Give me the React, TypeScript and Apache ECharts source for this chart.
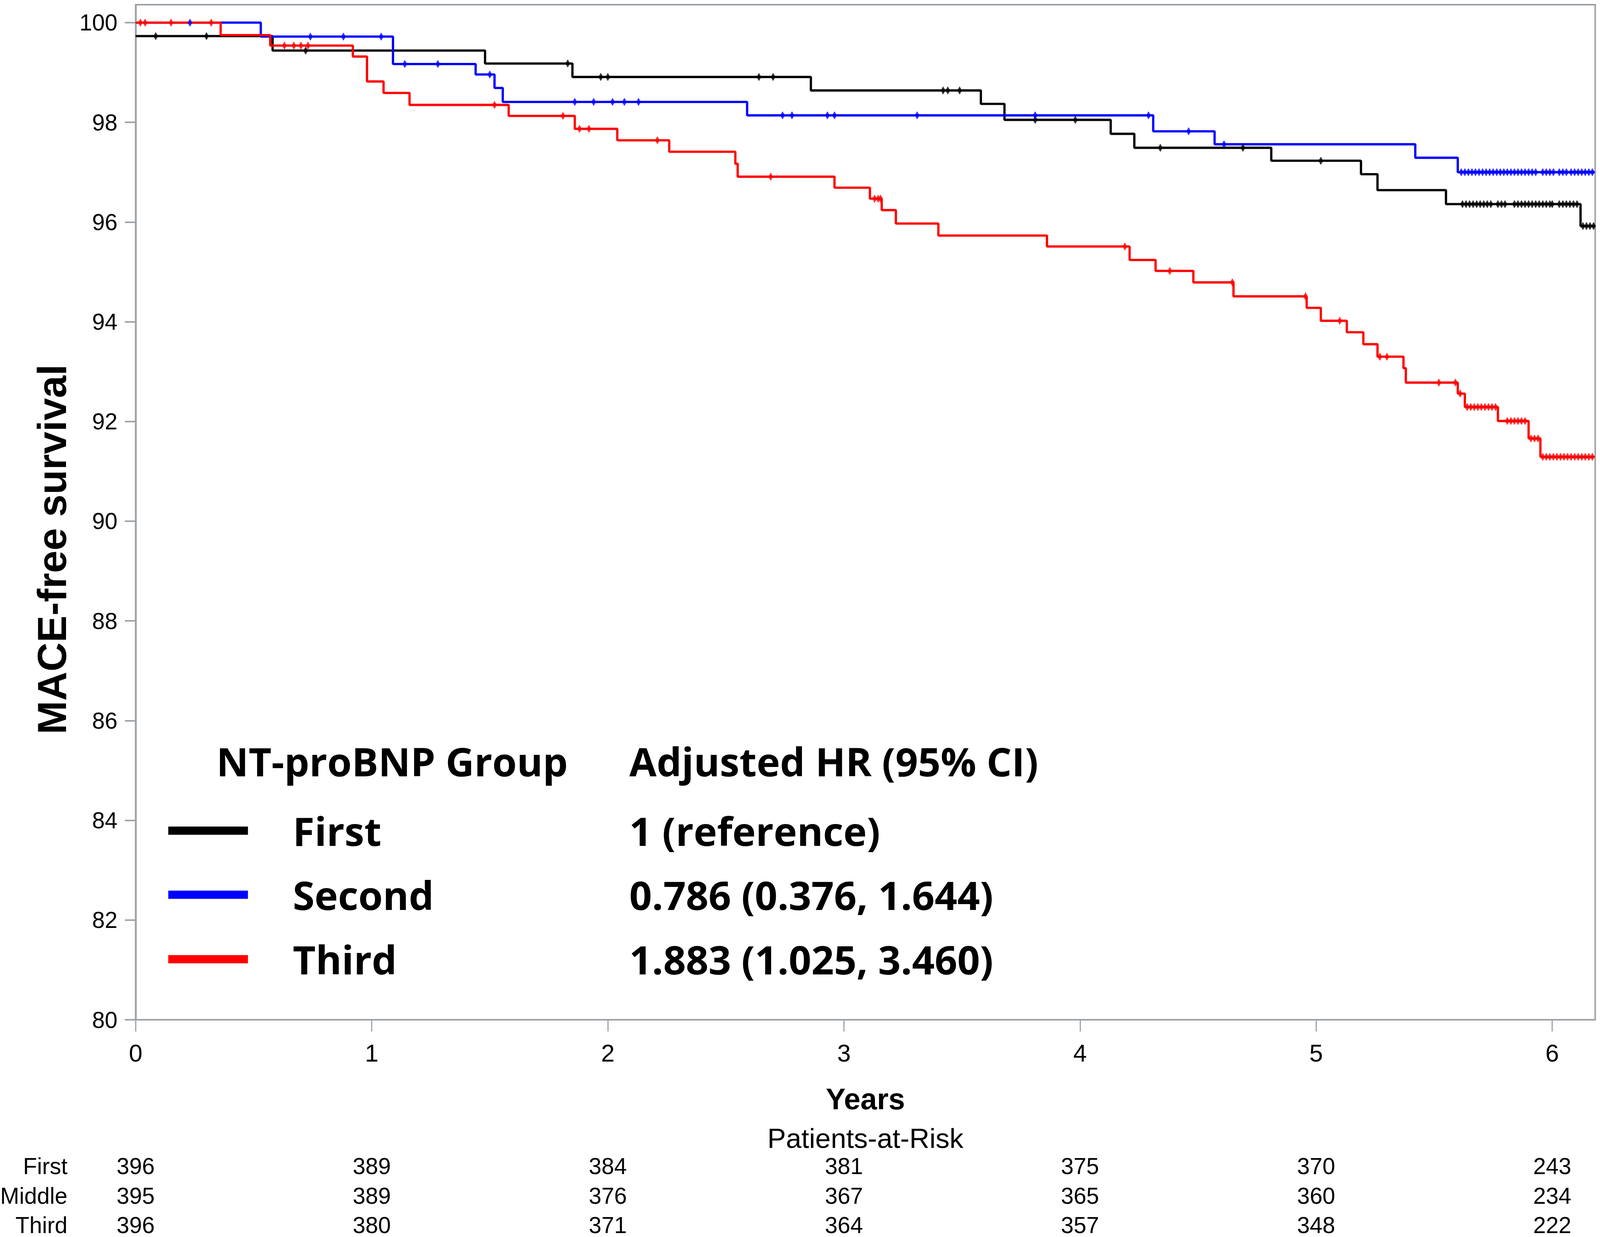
import React, { useEffect, useRef, useState } from "react";
import * as echarts from "echarts";

const W = 4317;
const H = 3166;

// ---- axis ticks ----
const xTicks = [0, 1, 2, 3, 4, 5, 6];
const yTicks = [80, 82, 84, 86, 88, 90, 92, 94, 96, 98, 100];
const xMax = 6.182;
const yMin = 80;
const yMax = 100.36;
const followUpEnd = 6.18;

// ---- Kaplan-Meier step data (event time, survival after event) ----
const firstTimes = [0, 0.58, 1.48, 1.85, 2.86, 3.58, 3.68, 4.13, 4.23, 4.81, 5.19, 5.26, 5.55, 6.12];
const firstSurv = [99.73, 99.44, 99.18, 98.91, 98.64, 98.37, 98.05, 97.77, 97.49, 97.23, 96.96, 96.64, 96.36, 95.92];

const secondTimes = [0, 0.53, 1.09, 1.44, 1.52, 1.555, 2.59, 4.31, 4.57, 5.42, 5.6];
const secondSurv = [100, 99.72, 99.17, 98.96, 98.69, 98.41, 98.14, 97.82, 97.56, 97.29, 97.0];

const thirdTimes = [0, 0.36, 0.57, 0.92, 0.98, 1.05, 1.16, 1.58, 1.86, 2.04, 2.26, 2.54, 2.55, 2.96, 3.11, 3.16, 3.22, 3.4, 3.86, 4.21, 4.32, 4.48, 4.65, 4.96, 5.02, 5.13, 5.2, 5.26, 5.37, 5.38, 5.6, 5.63, 5.77, 5.9, 5.95];
const thirdSurv = [100, 99.75, 99.54, 99.32, 98.82, 98.59, 98.35, 98.13, 97.87, 97.64, 97.41, 97.17, 96.91, 96.69, 96.47, 96.24, 95.97, 95.73, 95.51, 95.24, 95.02, 94.79, 94.51, 94.28, 94.02, 93.79, 93.55, 93.3, 93.07, 92.78, 92.56, 92.29, 92.01, 91.66, 91.29];

// ---- censoring times ----
const firstCensor = [0.085, 0.3, 0.72, 1.83, 1.97, 2.0, 2.64, 2.7, 3.42, 3.44, 3.49, 3.81, 3.98, 4.34, 4.69, 5.02,
  5.62, 5.635, 5.65, 5.665, 5.68, 5.695, 5.71, 5.725, 5.74, 5.77, 5.785, 5.8, 5.84, 5.855, 5.87, 5.885, 5.9, 5.915,
  5.93, 5.945, 5.96, 5.975, 5.99, 6.0, 6.03, 6.045, 6.06, 6.075, 6.09, 6.105, 6.13, 6.145, 6.16, 6.175];
const secondCensor = [0.23, 0.74, 0.88, 1.04, 1.14, 1.28, 1.5, 1.86, 1.94, 2.02, 2.07, 2.13, 2.74, 2.78, 2.93, 2.96,
  3.31, 3.81, 4.29, 4.46, 4.61, 5.615, 5.63, 5.645, 5.66, 5.675, 5.69, 5.705, 5.72, 5.735, 5.75, 5.765, 5.78, 5.795,
  5.81, 5.825, 5.84, 5.855, 5.87, 5.885, 5.9, 5.915, 5.93, 5.96, 5.975, 5.99, 6.005, 6.03, 6.045, 6.06, 6.08, 6.095,
  6.11, 6.125, 6.14, 6.155, 6.17];
const thirdCensor = [0.02, 0.04, 0.15, 0.32, 0.63, 0.67, 0.7, 0.73, 1.52, 1.81, 1.88, 1.92, 2.21, 2.69, 3.13, 3.145,
  3.155, 4.19, 4.38, 4.645, 4.955, 5.1, 5.27, 5.3, 5.52, 5.59, 5.61, 5.64, 5.655, 5.67, 5.685, 5.7, 5.715, 5.73,
  5.745, 5.76, 5.81, 5.825, 5.84, 5.855, 5.87, 5.885, 5.91, 5.925, 5.94, 5.96, 5.975, 5.99, 6.005, 6.02, 6.035,
  6.05, 6.065, 6.08, 6.095, 6.11, 6.125, 6.14, 6.155, 6.17];

// ---- legend / table texts ----
const groupNames = ["First", "Second", "Third"];
const groupColors = ["#000000", "#0000ff", "#ff0000"];
const hrLabels = ["1 (reference)", "0.786 (0.376, 1.644)", "1.883 (1.025, 3.460)"];
const legendHeader = "NT-proBNP Group";
const hrHeader = "Adjusted HR (95% CI)";
const yTitle = "MACE-free survival";
const xTitle = "Years";
const riskTitle = "Patients-at-Risk";
const riskRowLabels = ["First", "Middle", "Third"];
const riskFirst = [396, 389, 384, 381, 375, 370, 243];
const riskMiddle = [395, 389, 376, 367, 365, 360, 234];
const riskThird = [396, 380, 371, 364, 357, 348, 222];

const AXIS_GRAY = "#9ca1a6";
const SANS = "'Liberation Sans', Arial, sans-serif";
const LEG = "'Open Sans', 'Noto Sans', sans-serif";

function survAt(times: number[], surv: number[], t: number): number {
  let v = surv[0];
  for (let i = 0; i < times.length; i++) if (times[i] <= t) v = surv[i];
  return v;
}

function kmData(times: number[], surv: number[]) {
  const d = times.map((t, i) => [t, surv[i]]);
  d.push([followUpEnd, surv[surv.length - 1]]);
  return d;
}

function censorData(c: number[], times: number[], surv: number[]) {
  return c.map((t) => [t, survAt(times, surv, t)]);
}

export default function App() {
  const ref = useRef<HTMLDivElement>(null);
  const [size] = useState(() => {
    const vw = typeof window !== "undefined" && window.innerWidth ? window.innerWidth : W;
    const vh = typeof window !== "undefined" && window.innerHeight ? window.innerHeight : H;
    return { w: vw, h: vh, kx: vw / W, ky: vh / H };
  });
  useEffect(() => {
    document.body.style.margin = "0";
    document.body.style.overflow = "hidden";
    if (!ref.current) return;
    const { kx, ky } = size;
    const sx = (v: number) => v * kx;
    const sy = (v: number) => v * ky;
    const kf = Math.sqrt(kx * ky);
    const sf = (v: number) => v * kf;
    const chart = echarts.init(ref.current, undefined, { renderer: "svg", width: size.w, height: size.h });
    const sets = [
      { t: firstTimes, s: firstSurv, c: firstCensor },
      { t: secondTimes, s: secondSurv, c: secondCensor },
      { t: thirdTimes, s: thirdSurv, c: thirdCensor },
    ];
    const series: any[] = [];
    sets.forEach((g, i) => {
      series.push({
        type: "line",
        name: groupNames[i],
        step: "end",
        data: kmData(g.t, g.s),
        symbol: "none",
        lineStyle: { color: groupColors[i], width: sf(6) },
        z: 2 + i,
      });
    });
    sets.forEach((g, i) => {
      series.push({
        type: "scatter",
        name: groupNames[i] + " censored",
        data: censorData(g.c, g.t, g.s),
        symbol: "diamond",
        symbolSize: [sx(13), sy(21)],
        itemStyle: { color: groupColors[i] },
        z: 6 + i,
      });
    });

    chart.setOption({
      animation: false,
      backgroundColor: "#ffffff",
      textStyle: { fontFamily: SANS },
      grid: {
        left: sx(366),
        top: sy(12),
        width: sx(3938),
        height: sy(2598),
        show: true,
        borderColor: AXIS_GRAY,
        borderWidth: sf(4),
        backgroundColor: "transparent",
      },
      xAxis: {
        type: "value",
        min: 0,
        max: xMax,
        interval: 1,
        axisLine: { show: true, lineStyle: { color: AXIS_GRAY, width: sf(4) } },
        axisTick: { show: true, inside: false, length: sy(30), lineStyle: { color: AXIS_GRAY, width: sf(3) }, customValues: xTicks },
        axisLabel: { fontSize: sf(64), color: "#000", margin: sy(54), fontFamily: SANS, customValues: xTicks },
        splitLine: { show: false },
      },
      yAxis: {
        type: "value",
        min: yMin,
        max: yMax,
        interval: 2,
        axisLine: { show: true, lineStyle: { color: AXIS_GRAY, width: sf(4) } },
        axisTick: { show: true, inside: false, length: sx(29), lineStyle: { color: AXIS_GRAY, width: sf(4) }, customValues: yTicks },
        axisLabel: { fontSize: sf(60), color: "#000", margin: sx(49), fontFamily: SANS, customValues: yTicks },
        splitLine: { show: false },
      },
      series,
    });

    const px = xTicks.map((t) => chart.convertToPixel({ xAxisIndex: 0 }, t) as number);
    const gridLeftPx = chart.convertToPixel({ xAxisIndex: 0 }, 0) as number;
    const gridRightPx = chart.convertToPixel({ xAxisIndex: 0 }, xMax) as number;
    const midX = (gridLeftPx + gridRightPx) / 2;

    const graphic: any[] = [];
    const txt = (text: string, x: number, y: number, size: number, opts: any = {}) => ({
      type: "text",
      x,
      y,
      silent: true,
      style: {
        text,
        fill: "#000",
        fontSize: size,
        fontFamily: opts.family || SANS,
        fontWeight: opts.weight || "normal",
        align: opts.align || "left",
        verticalAlign: "middle",
      },
      rotation: opts.rotation || 0,
    });

    graphic.push(txt(yTitle, sx(141), sy(1406), sf(106), { weight: "bold", align: "center", rotation: Math.PI / 2 }));
    graphic.push(txt(xTitle, midX, sy(2812), sf(78), { weight: "bold", align: "center" }));
    graphic.push(txt(riskTitle, midX, sy(2913), sf(73), { align: "center" }));

    const rows = [riskFirst, riskMiddle, riskThird];
    const rowY = [2984, 3060, 3135];
    rows.forEach((r, ri) => {
      graphic.push(txt(riskRowLabels[ri], sx(182), sy(rowY[ri]), sf(60), { align: "right" }));
      r.forEach((n, ci) => {
        graphic.push(txt(String(n), px[ci], sy(rowY[ri]), sf(60), { align: "center" }));
      });
    });

    // legend block
    graphic.push(txt(legendHeader, sx(584), sy(1948), sf(104), { weight: "bold", family: LEG }));
    graphic.push(txt(hrHeader, sx(1698), sy(1948), sf(104), { weight: "bold", family: LEG }));
    const legY = [2126, 2290, 2455];
    groupNames.forEach((g, i) => {
      graphic.push({
        type: "rect",
        silent: true,
        shape: { x: sx(454), y: sy(legY[i] - 10.5), width: sx(215), height: sy(21) },
        style: { fill: groupColors[i] },
      });
      graphic.push(txt(g, sx(790), sy(legY[i]), sf(104), { weight: "bold", family: LEG }));
      graphic.push(txt(hrLabels[i], sx(1698), sy(legY[i]), sf(104), { weight: "bold", family: LEG }));
    });

    chart.setOption({ graphic });

    return () => chart.dispose();
  }, []);
  return <div ref={ref} style={{ width: size.w, height: size.h }} />;
}
